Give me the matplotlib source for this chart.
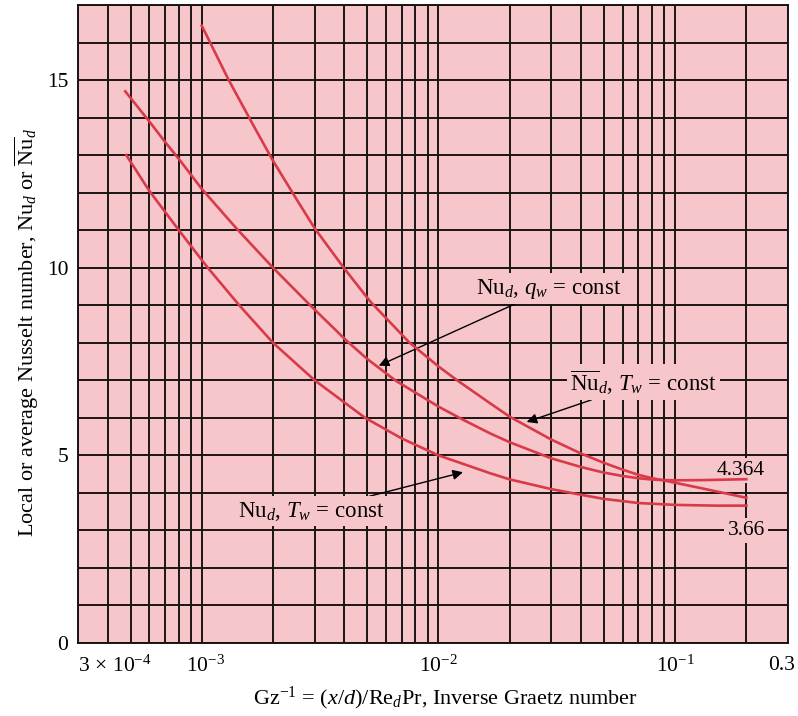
import matplotlib
matplotlib.use('Agg')
import matplotlib.pyplot as plt
import matplotlib.transforms as mtransforms

plt.rcParams['font.family'] = ['Liberation Serif', 'DejaVu Serif']
plt.rcParams['mathtext.fontset'] = 'custom'
plt.rcParams['mathtext.rm'] = 'Liberation Serif'
plt.rcParams['mathtext.it'] = 'Liberation Serif:italic'
plt.rcParams['mathtext.bf'] = 'Liberation Serif:bold'

# ---- data ----
# average Nusselt, constant wall temperature (top curve)
gz_avg_T = [1.0e-3, 1.3e-3, 1.65e-3, 2.0e-3, 2.5e-3, 3.0e-3, 4.0e-3, 5.15e-3, 7.5e-3,
            1.0e-2, 1.2e-2, 1.66e-2, 2.0e-2, 3.0e-2, 4.0e-2, 5.0e-2, 6.0e-2, 7.0e-2,
            8.0e-2, 9.0e-2, 1.0e-1, 1.3e-1, 1.6e-1, 2.0e-1]
nu_avg_T = [16.45, 15.0, 13.8, 12.85, 11.85, 11.05, 9.98, 9.1, 8.02,
            7.37, 7.0, 6.38, 6.03, 5.42, 5.05, 4.8, 4.62, 4.48,
            4.39, 4.33, 4.27, 4.12, 4.0, 3.87]

# local Nusselt, constant wall heat flux
gz_loc_q = [4.75e-4, 6.0e-4, 7.0e-4, 8.0e-4, 1.0e-3, 1.4e-3, 2.0e-3, 2.85e-3, 4.1e-3,
            5.0e-3, 6.6e-3, 1.0e-2, 1.27e-2, 1.66e-2, 2.0e-2, 3.0e-2, 4.0e-2, 5.0e-2,
            6.0e-2, 7.0e-2, 8.0e-2, 9.0e-2, 1.0e-1, 1.3e-1, 1.6e-1, 2.0e-1]
nu_loc_q = [14.7, 13.9, 13.35, 12.9, 12.1, 11.05, 10.0, 9.02, 8.05,
            7.57, 6.99, 6.3, 5.95, 5.58, 5.35, 4.92, 4.69, 4.54,
            4.45, 4.39, 4.355, 4.34, 4.335, 4.34, 4.352, 4.364]

# local Nusselt, constant wall temperature
gz_loc_T = [4.8e-4, 6.0e-4, 8.0e-4, 1.06e-3, 1.44e-3, 2.0e-3, 3.0e-3, 4.9e-3, 7.0e-3,
            1.0e-2, 1.66e-2, 2.0e-2, 3.0e-2, 4.0e-2, 5.0e-2, 7.0e-2, 1.0e-1, 1.5e-1, 2.0e-1]
nu_loc_T = [13.0, 12.05, 11.0, 10.0, 9.0, 8.0, 7.0, 6.0, 5.45,
            5.0, 4.52, 4.36, 4.1, 3.95, 3.84, 3.73, 3.68, 3.66, 3.66]

x_tick_vals = [3e-4, 1e-3, 1e-2, 1e-1, 0.3]
x_tick_labels = [r'$3\,\times\,10^{-4}$', r'$10^{-3}$', r'$10^{-2}$', r'$10^{-1}$', '0.3']
y_tick_vals = [0, 5, 10, 15]
y_tick_labels = ['0', '5', '10', '15']

PINK = '#f7c6cb'
GRID = '#1c1414'
RED = '#d83a48'

fig = plt.figure(figsize=(7.98, 7.16), dpi=100)
ax = fig.add_axes([78 / 798, 1 - 643 / 716, 710 / 798, 638 / 716])
ax.set_facecolor(PINK)
ax.set_xscale('log')
ax.set_xlim(3e-4, 0.3)
ax.set_ylim(0, 17)

# grid: every 1-9 multiple on x, every unit on y
minor_x = [k * 10.0 ** e for e in range(-4, 0) for k in range(1, 10)
           if 3e-4 <= k * 10.0 ** e <= 0.3]
ax.set_xticks(minor_x, minor=True)
ax.set_xticks(x_tick_vals)
ax.set_xticklabels(x_tick_labels, fontsize=15.5)
ax.set_yticks(list(range(0, 18)), minor=True)
ax.set_yticks(y_tick_vals)
ax.set_yticklabels(y_tick_labels, fontsize=15.5)
ax.tick_params(which='both', length=0)
ax.tick_params(axis='x', pad=9)
ax.tick_params(axis='y', pad=7)
ax.set_axisbelow(True)
ax.grid(which='both', color=GRID, lw=1.4)
for s in ax.spines.values():
    s.set_color(GRID)
    s.set_linewidth(1.4)

lbls = ax.get_xticklabels()
lbls[0].set_ha('left')
lbls[1].set_transform(lbls[1].get_transform() +
                      mtransforms.ScaledTranslation(4 / 100, 0, fig.dpi_scale_trans))
lbls[-1].set_transform(lbls[-1].get_transform() +
                       mtransforms.ScaledTranslation(-6 / 100, 0, fig.dpi_scale_trans))

for xs, ys in [(gz_avg_T, nu_avg_T), (gz_loc_q, nu_loc_q), (gz_loc_T, nu_loc_T)]:
    ax.plot(xs, ys, color=RED, lw=1.9, zorder=6, solid_joinstyle='round')

box = dict(boxstyle='square,pad=0.15', fc=PINK, ec='none')
arrow = dict(arrowstyle='-|>', color='black', lw=1.0, mutation_scale=15, shrinkA=0, shrinkB=0)

ax.annotate(r'Nu$_{d}$, $q_{w}$ = const', xy=(5.6e-3, 7.39), xytext=(1.44e-2, 9.44),
            fontsize=16.5, ha='left', va='center', bbox=box, arrowprops=arrow, zorder=5)
ax.annotate(r'$\overline{\mathrm{Nu}}_{d}$, $T_{w}$ = const', xy=(2.36e-2, 5.89),
            xytext=(3.6e-2, 6.95), fontsize=16.5, ha='left', va='center', bbox=box,
            arrowprops=arrow, zorder=5)
ax.annotate(r'Nu$_{d}$, $T_{w}$ = const', xy=(1.27e-2, 4.55), xytext=(5.9e-3, 3.51),
            fontsize=16.5, ha='right', va='center', bbox=box, arrowprops=arrow, zorder=5)

ax.text(0.19, 4.6, '4.364', fontsize=15.5, ha='center', va='center', bbox=box, zorder=5)
ax.text(0.2, 3.0, '3.66', fontsize=15.5, ha='center', va='center', bbox=box, zorder=5)

ax.set_xlabel(r'Gz$^{-1}$ = ($x$/$d$)/Re$_{d}$Pr, Inverse Graetz number', fontsize=16,
              labelpad=6)
ax.xaxis.label.set_x(0.518)
ax.set_ylabel(r'Local or average Nusselt number, Nu$_{d}$ or $\overline{\mathrm{Nu}}_{d}$',
              fontsize=16, labelpad=4)
ax.yaxis.label.set_y(0.487)

fig.savefig('out.png', dpi=100)
